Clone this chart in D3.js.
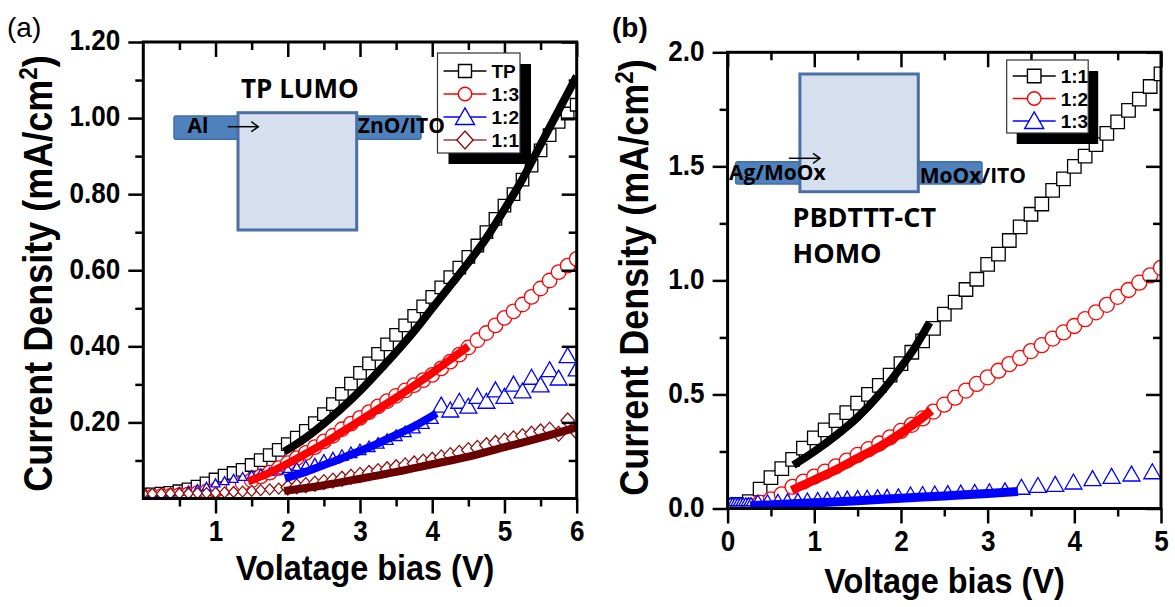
<!DOCTYPE html>
<html>
<head>
<meta charset="utf-8">
<script src="https://cdn.jsdelivr.net/npm/d3@7"></script>
<style>
html, body { margin: 0; padding: 0; background: #fff; }
svg { display: block; }
text { font-family: "Liberation Sans", Arial, sans-serif; }
.inset text { font-family: "Open Sans", sans-serif; font-weight: bold; }
</style>
</head>
<body>
<svg id="chart" width="1175" height="607"></svg>
<script>
// ---- panel (a): TP LUMO devices ----
var voltA = [0,0.125,0.25,0.375,0.5,0.625,0.75,0.875,1,1.125,1.25,1.375,1.5,1.625,1.75,1.875,2,2.125,2.25,2.375,2.5,2.625,2.75,2.875,3,3.125,3.25,3.375,3.5,3.625,3.75,3.875,4,4.125,4.25,4.375,4.5,4.625,4.75,4.875,5,5.125,5.25,5.375,5.5,5.625,5.75,5.875,6];
var jA_TP = [0.010,0.011,0.013,0.015,0.019,0.024,0.031,0.040, 0.050,0.060,0.067,0.075,0.088,0.101,0.114,0.128, 0.143,0.160,0.178,0.198,0.222,0.248,0.275,0.302, 0.330,0.355,0.380,0.405,0.430,0.455,0.480,0.505, 0.530,0.555,0.582,0.607,0.635,0.665,0.700,0.735, 0.770,0.800,0.838,0.875,0.915,0.955,0.990,1.012,1.035];
var jA_13 = [0.004,0.005,0.006,0.007,0.009,0.011,0.014,0.018, 0.022,0.027,0.033,0.040,0.048,0.058,0.068,0.080, 0.093,0.106,0.120,0.135,0.150,0.165,0.182,0.197, 0.212,0.227,0.242,0.256,0.270,0.284,0.298,0.311, 0.325,0.342,0.360,0.378,0.397,0.416,0.435,0.455, 0.475,0.492,0.510,0.530,0.552,0.573,0.595,0.612,0.630];
var jA_12 = [0.012,0.013,0.014,0.016,0.018,0.021,0.025,0.031, 0.040,0.046,0.052,0.057,0.062,0.066,0.070,0.074, 0.078,0.083,0.088,0.094,0.100,0.106,0.113,0.120, 0.128,0.136,0.145,0.155,0.165,0.175,0.185,0.197, 0.210,0.245,0.232,0.255,0.242,0.268,0.255,0.285, 0.268,0.300,0.282,0.318,0.298,0.338,0.316,0.375,0.340];
var jA_11 = [0.012,0.012,0.012,0.013,0.013,0.013,0.014,0.014, 0.015,0.016,0.017,0.018,0.020,0.022,0.024,0.026, 0.029,0.032,0.035,0.039,0.043,0.047,0.052,0.057, 0.062,0.067,0.072,0.077,0.082,0.087,0.092,0.097, 0.102,0.108,0.114,0.120,0.127,0.133,0.140,0.146, 0.152,0.158,0.164,0.170,0.176,0.181,0.170,0.205,0.175];

// fitted curves (thick lines)
var fitA_TP_v = [1.95,2.25,2.5,2.75,3,3.25,3.5,3.75,4,4.25,4.5,4.75,5,5.25,5.5,5.75,6];
var fitA_TP_j = [0.123,0.16,0.197,0.238,0.283,0.333,0.385,0.44,0.50,0.56,0.62,0.685,0.76,0.84,0.93,1.02,1.11];
var fitA_13_v = [1.45,1.75,2,2.25,2.5,2.75,3,3.25,3.5,3.75,4,4.25,4.5];
var fitA_13_j = [0.045,0.068,0.092,0.118,0.145,0.175,0.205,0.235,0.265,0.297,0.33,0.365,0.40];
var fitA_12_v = [1.96,2.25,2.5,2.75,3,3.25,3.5,3.75,4.06];
var fitA_12_j = [0.053,0.07,0.088,0.106,0.125,0.145,0.167,0.19,0.224];
var fitA_11_v = [1.95,2.5,3,3.5,4,4.5,5,5.5,6];
var fitA_11_j = [0.02,0.035,0.052,0.07,0.09,0.11,0.135,0.16,0.187];

var ticksXA = [1,2,3,4,5,6];
var ticksYA = [0.2,0.4,0.6,0.8,1.0,1.2];
var namesA = ["TP","1:3","1:2","1:1"];

// ---- panel (b): PBDTTT-CT HOMO devices ----
var voltB = [0,0.125,0.25,0.375,0.5,0.625,0.75,0.875,1,1.125,1.25,1.375,1.5,1.625,1.75,1.875,2,2.125,2.25,2.375,2.5,2.625,2.75,2.875,3,3.125,3.25,3.375,3.5,3.625,3.75,3.875,4,4.125,4.25,4.375,4.5,4.625,4.75,4.875,5];
var jB_11 = [0.015,0.018,0.030,0.085,0.135,0.175,0.215,0.265, 0.310,0.345,0.385,0.420,0.462,0.500,0.540,0.585, 0.635,0.685,0.735,0.790,0.852,0.905,0.960,1.005, 1.070,1.115,1.175,1.235,1.290,1.335,1.395,1.445, 1.500,1.545,1.595,1.645,1.695,1.745,1.795,1.850,1.905];
var jB_12 = [0.005,0.007,0.012,0.025,0.040,0.062,0.095,0.118, 0.140,0.162,0.185,0.210,0.235,0.260,0.285,0.312, 0.340,0.367,0.395,0.425,0.455,0.486,0.517,0.546, 0.575,0.604,0.633,0.660,0.690,0.716,0.745,0.772, 0.800,0.830,0.860,0.893,0.928,0.958,0.990,1.022,1.055];
var voltB_13 = [0,0.03,0.06,0.09,0.12,0.15,0.18,0.21,0.24,0.27, 0.35,0.46,0.58,0.69,0.81,0.92,1.04,1.15,1.27,1.38, 1.5,1.61,1.73,1.84,1.97,2.11,2.25,2.39,2.54,2.69, 2.85,3.02,3.2,3.39,3.58,3.78,3.99,4.21,4.43,4.66,4.9];
var jB_13 = [0.028,0.028,0.028,0.028,0.028,0.028,0.028,0.028,0.028,0.028, 0.040,0.041,0.043,0.045,0.047,0.049,0.051,0.053,0.055,0.057, 0.059,0.061,0.063,0.065,0.067,0.069,0.071,0.073,0.075,0.077, 0.080,0.083,0.087,0.092,0.100,0.105,0.115,0.130,0.140,0.150,0.160];

var fitB_11_v = [0.76,1,1.25,1.5,1.75,2,2.15,2.33];
var fitB_11_j = [0.19,0.25,0.32,0.40,0.50,0.62,0.70,0.815];
var fitB_12_v = [0.74,1,1.25,1.5,1.75,2,2.2,2.35];
var fitB_12_j = [0.08,0.125,0.17,0.22,0.27,0.33,0.385,0.43];
var fitB_13_v = [0.26,1,1.5,2,2.5,3,3.35];
var fitB_13_j = [0.012,0.025,0.034,0.045,0.055,0.066,0.075];

var ticksXB = [0,1,2,3,4,5];
var ticksYB = [0,0.5,1.0,1.5,2.0];
var namesB = ["1:1","1:2","1:3"];

var COL_BLACK = "#000000", COL_RED = "#ff0000", COL_BLUE = "#0000ff", COL_MAROON = "#8b1010", COL_MAROON_FIT = "#6b0000";
var TEXT_SQUEEZE = 0.9;

var svg = d3.select("#chart");


function markerPath(shape, s) {
	var h = s / 2;
	if (shape == "square") {
		return "M" + (-h) + "," + (-h) + "h" + s + "v" + s + "h" + (-s) + "Z";
	}
	if (shape == "circle") {
		return "M" + (-h) + ",0a" + h + "," + h + " 0 1,0 " + s + ",0a" + h + "," + h + " 0 1,0 " + (-s) + ",0Z";
	}
	if (shape == "triangle") {
		var th = s * 0.88;
		return "M0," + (-th * 0.55) + "L" + h + "," + (th * 0.45) + "L" + (-h) + "," + (th * 0.45) + "Z";
	}
	// diamond
	var w = s * 0.9;
	return "M0," + (-h) + "L" + (w / 2) + ",0L0," + h + "L" + (-w / 2) + ",0Z";
}


function drawMarkers(g, x, y, xs, ys, shape, color, sizeFn) {
	g.append("g").selectAll("path")
		.data(ys)
		.enter().append("path")
			.attr("transform", function(d, i) { return "translate(" + x(xs[i]) + "," + y(d) + ")"; })
			.attr("d", function(d, i) { return markerPath(shape, sizeFn(xs[i])); })
			.attr("fill", "#fff")
			.attr("stroke", color)
			.attr("stroke-width", 1.3);
}


function drawFit(g, x, y, vs, js, color, width) {
	var line = d3.line()
		.x(function(d) { return x(d[0]); })
		.y(function(d) { return y(d[1]); })
		.curve(d3.curveMonotoneX);

	g.append("path")
		.datum(vs.map(function(v, i) { return [v, js[i]]; }))
		.attr("d", line)
		.attr("fill", "none")
		.attr("stroke", color)
		.attr("stroke-width", width);
}


// squeezed bold text (the original lettering is a bit condensed)
function label(g, x, y, size, anchor, rotate) {
	var t = g.append("g")
		.attr("transform", "translate(" + x + "," + y + ")" + (rotate ? " rotate(-90)" : "") + " scale(" + TEXT_SQUEEZE + ",1)")
		.append("text")
			.attr("text-anchor", anchor)
			.attr("font-size", size)
			.attr("font-weight", "bold")
			.attr("fill", "#000");
	return t;
}


function styleAxis(ax) {
	ax.select(".domain").remove();
	ax.selectAll(".tick line").attr("stroke", "#000").attr("stroke-width", 2.5);
	ax.attr("font-family", "'Liberation Sans', Arial, sans-serif")
		.attr("font-size", 29)
		.attr("font-weight", "bold");
	ax.selectAll(".tick text").attr("fill", "#000");
}


function drawPanel(p) {
	var x = d3.scaleLinear().domain(p.xDom).range([p.left, p.right]);
	var y = d3.scaleLinear().domain(p.yDom).range([p.bottom, p.top]);

	var g = svg.append("g");

	g.append("clipPath").attr("id", "clip-" + p.id)
		.append("rect")
			.attr("x", p.left).attr("y", p.top)
			.attr("width", p.right - p.left).attr("height", p.bottom - p.top);

	var plot = g.append("g").attr("clip-path", "url(#clip-" + p.id + ")");

	for (var i = 0; i < p.series.length; i++) {
		var s = p.series[i];
		drawMarkers(plot, x, y, s.v, s.j, s.shape, s.color, s.size);
	}
	for (var i = 0; i < p.fits.length; i++) {
		var f = p.fits[i];
		drawFit(plot, x, y, f.v, f.j, f.color, f.width);
	}

	// minor + major ticks on all four sides; top/right mirrored inward
	var xMinor = p.xMinor, yMinor = p.yMinor;

	var bMin = g.append("g").attr("transform", "translate(0," + p.bottom + ")")
		.call(d3.axisBottom(x).tickValues(xMinor).tickSize(8).tickFormat(""));
	styleAxis(bMin);
	var bMaj = g.append("g").attr("transform", "translate(0," + p.bottom + ")")
		.call(d3.axisBottom(x).tickValues(p.xTicks).tickSize(15).tickFormat(d3.format("d")));
	styleAxis(bMaj);
	bMaj.selectAll(".tick text").attr("y", 42.5).attr("dy", null).attr("transform", "scale(" + TEXT_SQUEEZE + ",1)");

	var tMin = g.append("g").attr("transform", "translate(0," + p.top + ")")
		.call(d3.axisBottom(x).tickValues(xMinor).tickSize(8).tickFormat(""));
	styleAxis(tMin);
	var tMaj = g.append("g").attr("transform", "translate(0," + p.top + ")")
		.call(d3.axisBottom(x).tickValues(p.xTicks).tickSize(15).tickFormat(""));
	styleAxis(tMaj);

	var lMin = g.append("g").attr("transform", "translate(" + p.left + ",0)")
		.call(d3.axisLeft(y).tickValues(yMinor).tickSize(8).tickFormat(""));
	styleAxis(lMin);
	var lMaj = g.append("g").attr("transform", "translate(" + p.left + ",0)")
		.call(d3.axisLeft(y).tickValues(p.yTicks).tickSize(15).tickFormat(d3.format(p.yFmt)));
	styleAxis(lMaj);
	lMaj.selectAll(".tick text").attr("x", -23 / TEXT_SQUEEZE).attr("dy", "0.27em").attr("transform", "scale(" + TEXT_SQUEEZE + ",1)");

	var rMin = g.append("g").attr("transform", "translate(" + p.right + ",0)")
		.call(d3.axisLeft(y).tickValues(yMinor).tickSize(8).tickFormat(""));
	styleAxis(rMin);
	var rMaj = g.append("g").attr("transform", "translate(" + p.right + ",0)")
		.call(d3.axisLeft(y).tickValues(p.yTicks).tickSize(15).tickFormat(""));
	styleAxis(rMaj);

	g.append("rect")
		.attr("x", p.left).attr("y", p.top)
		.attr("width", p.right - p.left).attr("height", p.bottom - p.top)
		.attr("fill", "none").attr("stroke", "#000").attr("stroke-width", 3);

	// axis titles
	label(g, p.xTitlePos[0], p.xTitlePos[1], 36, "middle", false).text(p.xTitle);

	var yt = label(g, p.yTitlePos[0], p.yTitlePos[1], 40, "middle", true);
	yt.append("tspan").text("Current Density (mA/cm");
	yt.append("tspan").attr("font-size", 25).attr("dy", -15).text("2");
	yt.append("tspan").attr("dy", 15).text(")");

	// legend with drop shadow
	var lg = p.legend;
	g.append("rect").attr("x", lg.x + lg.sx).attr("y", lg.y + lg.sy)
		.attr("width", lg.w).attr("height", lg.h).attr("fill", "#000");
	g.append("rect").attr("x", lg.x).attr("y", lg.y)
		.attr("width", lg.w).attr("height", lg.h)
		.attr("fill", "#fff").attr("stroke", "#333").attr("stroke-width", 1.2);

	for (var i = 0; i < p.series.length; i++) {
		var s = p.series[i];
		var ry = lg.y + lg.row0 + i * lg.rowStep;
		g.append("line")
			.attr("x1", lg.x + 6).attr("x2", lg.x + 49)
			.attr("y1", ry).attr("y2", ry)
			.attr("stroke", s.legColor || s.color).attr("stroke-width", 1.3);
		g.append("path")
			.attr("transform", "translate(" + (lg.x + 27.5) + "," + ry + ")")
			.attr("d", markerPath(s.shape, s.legSize))
			.attr("fill", "#fff").attr("stroke", s.color).attr("stroke-width", 1.4);
		g.append("text")
			.attr("x", lg.x + 54).attr("y", ry + 7)
			.attr("font-size", 19).attr("font-weight", "bold")
			.text(s.name);
	}

	// panel letter
	svg.append("text")
		.attr("x", p.letterPos[0]).attr("y", p.letterPos[1])
		.attr("font-family", "'Open Sans', sans-serif")
		.attr("font-size", 28)
		.attr("font-weight", p.letterBold ? "bold" : "normal")
		.text(p.letter);
}


function drawArrow(g, x1, x2, yy) {
	g.append("line").attr("x1", x1).attr("x2", x2).attr("y1", yy).attr("y2", yy)
		.attr("stroke", "#000").attr("stroke-width", 1.5);
	g.append("path")
		.attr("d", "M" + (x2 - 7) + "," + (yy - 5) + "L" + x2 + "," + yy + "L" + (x2 - 7) + "," + (yy + 5))
		.attr("fill", "none").attr("stroke", "#000").attr("stroke-width", 1.5);
}


function drawInsets() {
	var g = svg.append("g").attr("class", "inset");

	// (a) TP LUMO
	g.append("rect").attr("x", 174).attr("y", 116).attr("width", 247).attr("height", 23.3).attr("rx", 2)
		.attr("fill", "#4f81bd").attr("stroke", "#3f6fa6").attr("stroke-width", 1.5);
	g.append("rect").attr("x", 238).attr("y", 112.7).attr("width", 118.7).attr("height", 117.3)
		.attr("fill", "#d5dfee").attr("stroke", "#4a6fa3").attr("stroke-width", 3);
	g.append("text").attr("x", 241).attr("y", 98.3).attr("font-size", 26).text("TP LUMO");
	g.append("text").attr("x", 187.5).attr("y", 133.3).attr("font-size", 21).text("Al");
	g.append("text").attr("x", 357.8).attr("y", 133.3).attr("font-size", 21).text("ZnO/ITO");
	drawArrow(g, 227.7, 258.3, 126.7);

	// (b) PBDTTT-CT HOMO
	g.append("rect").attr("x", 735.7).attr("y", 161.7).attr("width", 246.3).attr("height", 22.3).attr("rx", 2)
		.attr("fill", "#4f81bd").attr("stroke", "#3f6fa6").attr("stroke-width", 1.5);
	g.append("rect").attr("x", 799.9).attr("y", 74).attr("width", 118.4).attr("height", 117.7)
		.attr("fill", "#d5dfee").attr("stroke", "#4a6fa3").attr("stroke-width", 3);
	g.append("text").attr("x", 729).attr("y", 180).attr("font-size", 21).text("Ag/MoOx");
	g.append("text").attr("x", 919.8).attr("y", 182.7).attr("font-size", 21).text("MoOx/ITO");
	g.append("text").attr("x", 792.5).attr("y", 226.7).attr("font-size", 27).text("PBDTTT-CT");
	g.append("text").attr("x", 792.5).attr("y", 263.3).attr("font-size", 27).text("HOMO");
	drawArrow(g, 788.8, 820, 158.3);
}


var panelA = {
	id: "a", letter: "(a)", letterPos: [7, 37], letterBold: false,
	left: 143.3, right: 576.7, top: 42, bottom: 498.5,
	xDom: [0, 6], yDom: [0, 1.2],
	xTicks: ticksXA, yTicks: ticksYA, yFmt: ".2f",
	xMinor: [0.5,1.5,2.5,3.5,4.5,5.5], yMinor: [0.1,0.3,0.5,0.7,0.9,1.1],
	xTitle: "Volatage bias (V)", xTitlePos: [365, 580], yTitlePos: [52, 273.5],
	legend: { x: 437.5, y: 53, w: 82.5, h: 100, sx: 11, sy: 11, row0: 18, rowStep: 23 },
	series: [
		{ name: namesA[0], v: voltA, j: jA_TP, shape: "square", color: COL_BLACK, legSize: 13, size: function() { return 12.5; } },
		{ name: namesA[1], v: voltA, j: jA_13, shape: "circle", color: COL_RED, legSize: 13.5, size: function() { return 14.5; } },
		{ name: namesA[2], v: voltA, j: jA_12, shape: "triangle", color: COL_BLUE, legSize: 19, size: function(v) { return v < 2.5 ? 9 : (v < 4.05 ? 12 : 17); } },
		{ name: namesA[3], v: voltA, j: jA_11, shape: "diamond", color: COL_MAROON, legColor: "#9b3b3b", legSize: 18, size: function(v) { return v < 2 ? 11 : 15; } }
	],
	fits: [
		{ v: fitA_TP_v, j: fitA_TP_j, color: COL_BLACK, width: 8 },
		{ v: fitA_13_v, j: fitA_13_j, color: COL_RED, width: 8 },
		{ v: fitA_12_v, j: fitA_12_j, color: COL_BLUE, width: 8 },
		{ v: fitA_11_v, j: fitA_11_j, color: COL_MAROON_FIT, width: 8 }
	]
};

var panelB = {
	id: "b", letter: "(b)", letterPos: [612, 37], letterBold: true,
	left: 727.6, right: 1161, top: 52.3, bottom: 508.5,
	xDom: [0, 5], yDom: [0, 2],
	xTicks: ticksXB, yTicks: ticksYB, yFmt: ".1f",
	xMinor: [0.5,1.5,2.5,3.5,4.5], yMinor: [0.25,0.75,1.25,1.75],
	xTitle: "Voltage bias (V)", xTitlePos: [944.5, 593], yTitlePos: [648, 277.5],
	legend: { x: 1006.7, y: 60, w: 81.5, h: 73, sx: 10, sy: 11, row0: 16, rowStep: 22.5 },
	series: [
		{ name: namesB[0], v: voltB, j: jB_11, shape: "square", color: COL_BLACK, legSize: 13.5, size: function() { return 13.5; } },
		{ name: namesB[1], v: voltB, j: jB_12, shape: "circle", color: COL_RED, legSize: 13.5, size: function() { return 15; } },
		{ name: namesB[2], v: voltB_13, j: jB_13, shape: "triangle", color: COL_BLUE, legSize: 19, size: function(v) { return v < 2 ? 9 : (v < 3.3 ? 12 : 17); } }
	],
	fits: [
		{ v: fitB_11_v, j: fitB_11_j, color: COL_BLACK, width: 8 },
		{ v: fitB_12_v, j: fitB_12_j, color: COL_RED, width: 9 },
		{ v: fitB_13_v, j: fitB_13_j, color: COL_BLUE, width: 9 }
	]
};

drawPanel(panelA);
drawPanel(panelB);
drawInsets();
</script>
</body>
</html>
